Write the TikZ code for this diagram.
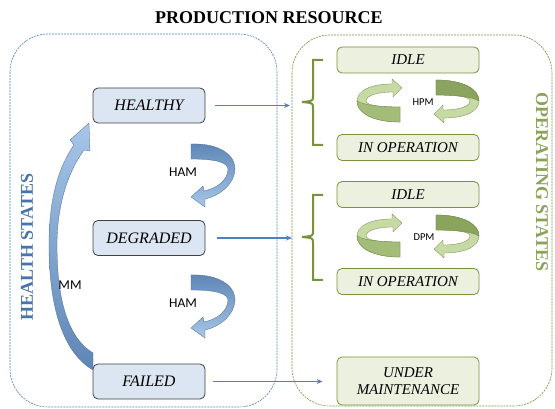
\documentclass[tikz,border=0pt]{standalone}
\usepackage{fontspec}
\setmainfont{Liberation Serif}
\newfontfamily\labelfont{Carlito}
\usetikzlibrary{arrows.meta}
\definecolor{hsblue}{HTML}{4F81BD}
\definecolor{hsfill}{HTML}{DCE6F2}
\definecolor{osgreen}{HTML}{77933C}
\definecolor{osfill}{HTML}{EBF1DE}
\definecolor{boxedge}{HTML}{404040}
\definecolor{hamdark}{HTML}{5E86B6}
\definecolor{hamlight}{HTML}{A7C6E8}
\definecolor{spinlight}{HTML}{C8DAA4}
\definecolor{spinmid}{HTML}{A3BD78}
\definecolor{spindark}{HTML}{8AA45E}

\begin{document}
\begin{tikzpicture}[x=1pt, y=-1pt,
    hstate/.style={draw=boxedge, fill=hsfill, line width=0.8pt, rounded corners=5pt,
      minimum width=112pt, minimum height=35pt, font=\fontsize{16}{18}\selectfont\itshape},
    ostate/.style={draw=osgreen, fill=osfill, line width=0.8pt, rounded corners=5pt,
      minimum width=142pt, minimum height=26pt, font=\fontsize{15}{17}\selectfont\itshape},
    link/.style={hsblue, line width=1.5pt, -{Stealth[length=6pt,width=5pt]}},
    brace/.style={osgreen, line width=2pt},
    lbl/.style={font=\labelfont\fontsize{13.5}{15}\selectfont},
    blockarrow/.style={top color=hamdark, bottom color=hamlight, draw=hamdark!80!black, line width=0.3pt}]
  \useasboundingbox (0,0) rectangle (555,409);

  % containers and title
  \draw[hsblue, line width=0.6pt, dash pattern=on 2pt off 1pt, rounded corners=38pt]
    (10,34) rectangle (277,407);
  \draw[osgreen, line width=0.6pt, dash pattern=on 2pt off 1pt, rounded corners=38pt]
    (292,35) rectangle (552,406);
  \node[font=\fontsize{18}{20}\selectfont\bfseries] (title) at (269,18) {PRODUCTION RESOURCE};
  \node[rotate=90, font=\fontsize{18}{20}\selectfont\bfseries, text=hsblue!90!black] (hlabel)
    at (27,247) {HEALTH STATES};
  \node[rotate=-90, font=\fontsize{18}{20}\selectfont\bfseries, text=osgreen!85] (olabel)
    at (542,182) {OPERATING STATES};

  % health states
  \node[hstate] (healthy) at (149,105.5) {HEALTHY};
  \node[hstate] (degraded) at (149,238) {DEGRADED};
  \node[hstate] (failed) at (149,381.5) {FAILED};

  % operating states
  \foreach \nm/\yy/\txt in {idleA/60/IDLE, operA/147.5/IN OPERATION,
      idleB/194.5/IDLE, operB/281.5/IN OPERATION}
    \node[ostate] (\nm) at (408,\yy) {\txt};
  \node[ostate, minimum height=48pt, align=center] (maint) at (408,381) {UNDER\\MAINTENANCE};

  % braces
  \foreach \dy/\nm in {0/braceA, 135/braceB} {
    \coordinate (\nm) at (302,102+\dy);
    \draw[brace] (323,60+\dy) -- (313,60+\dy) -- (313,96+\dy) .. controls (313,101+\dy) .. (302,102+\dy)
      .. controls (313,103+\dy) .. (313,108+\dy) -- (313,145+\dy) -- (323,145+\dy);
  }

  % health to operating
  \draw[link] ([xshift=10pt]healthy.east) -- ([xshift=-12pt]healthy.east -| braceA);
  \draw[link] ([xshift=12pt]degraded.east) -- ([xshift=-10pt]degraded.east -| braceB);
  \draw[link] ([xshift=8pt]failed.east) -- ([xshift=-14pt]failed.east -| maint.west);

  % HAM arrows
  \foreach \dy in {0,131}
    \path[blockarrow, shift={(0,\dy)}] (191,144) .. controls (222,143) and (236,157) .. (235,170)
      .. controls (234,183) and (222,195) .. (205,199) -- (205,207) -- (191,197) -- (203,186)
      -- (204,191) .. controls (218,188) and (227,180) .. (228,170)
      .. controls (229,162) and (214,159) .. (191,159) -- cycle;
  \node[lbl] (hamA) at (183,172) {HAM};
  \node[lbl] (hamB) at (183,303) {HAM};

  % MM arrow
  \path[top color=hamlight, bottom color=hamdark, draw=hamdark!80!black, line width=0.3pt]
    (93,370) .. controls (62,352) and (49,305) .. (49,245) .. controls (49,195) and (60,165) .. (74,145)
    -- (70,140) -- (89,123) -- (90,151) -- (84,150)
    .. controls (68,172) and (57,205) .. (57,245) .. controls (57,300) and (68,338) .. (93,353) -- cycle;
  \node[lbl] (mm) at (70,285) {MM};

  % HPM and DPM rotating arrows
  \foreach \dy in {0,135} {
    \begin{scope}[shift={(418,101+\dy)}]
      \foreach \rr/\face in {0/spinmid, 180/spindark} {
        \path[rotate=\rr, fill=spinlight, draw=spindark!80!black, line width=0.3pt]
          (-18,21) .. controls (-45,21) and (-61,12) .. (-61,0) .. controls (-61,-10) and (-48,-17) .. (-26,-17)
          -- (-26,-22) -- (-16,-13) -- (-25,-4) -- (-25,-9)
          .. controls (-42,-9) and (-52,-5) .. (-52,0) .. controls (-52,4) and (-40,6) .. (-18,6) -- cycle;
        \path[rotate=\rr, fill=\face, draw=spindark!80!black, line width=0.3pt]
          (-18,21) .. controls (-45,21) and (-61,12) .. (-61,0) .. controls (-54,4) and (-40,6) .. (-18,6) -- cycle;
      }
    \end{scope}
  }
  \node[lbl, font=\labelfont\fontsize{10.5}{12}\selectfont] (hpm) at (423,102) {HPM};
  \node[lbl, font=\labelfont\fontsize{10.5}{12}\selectfont] (dpm) at (424,237) {DPM};
\end{tikzpicture}
\end{document}
